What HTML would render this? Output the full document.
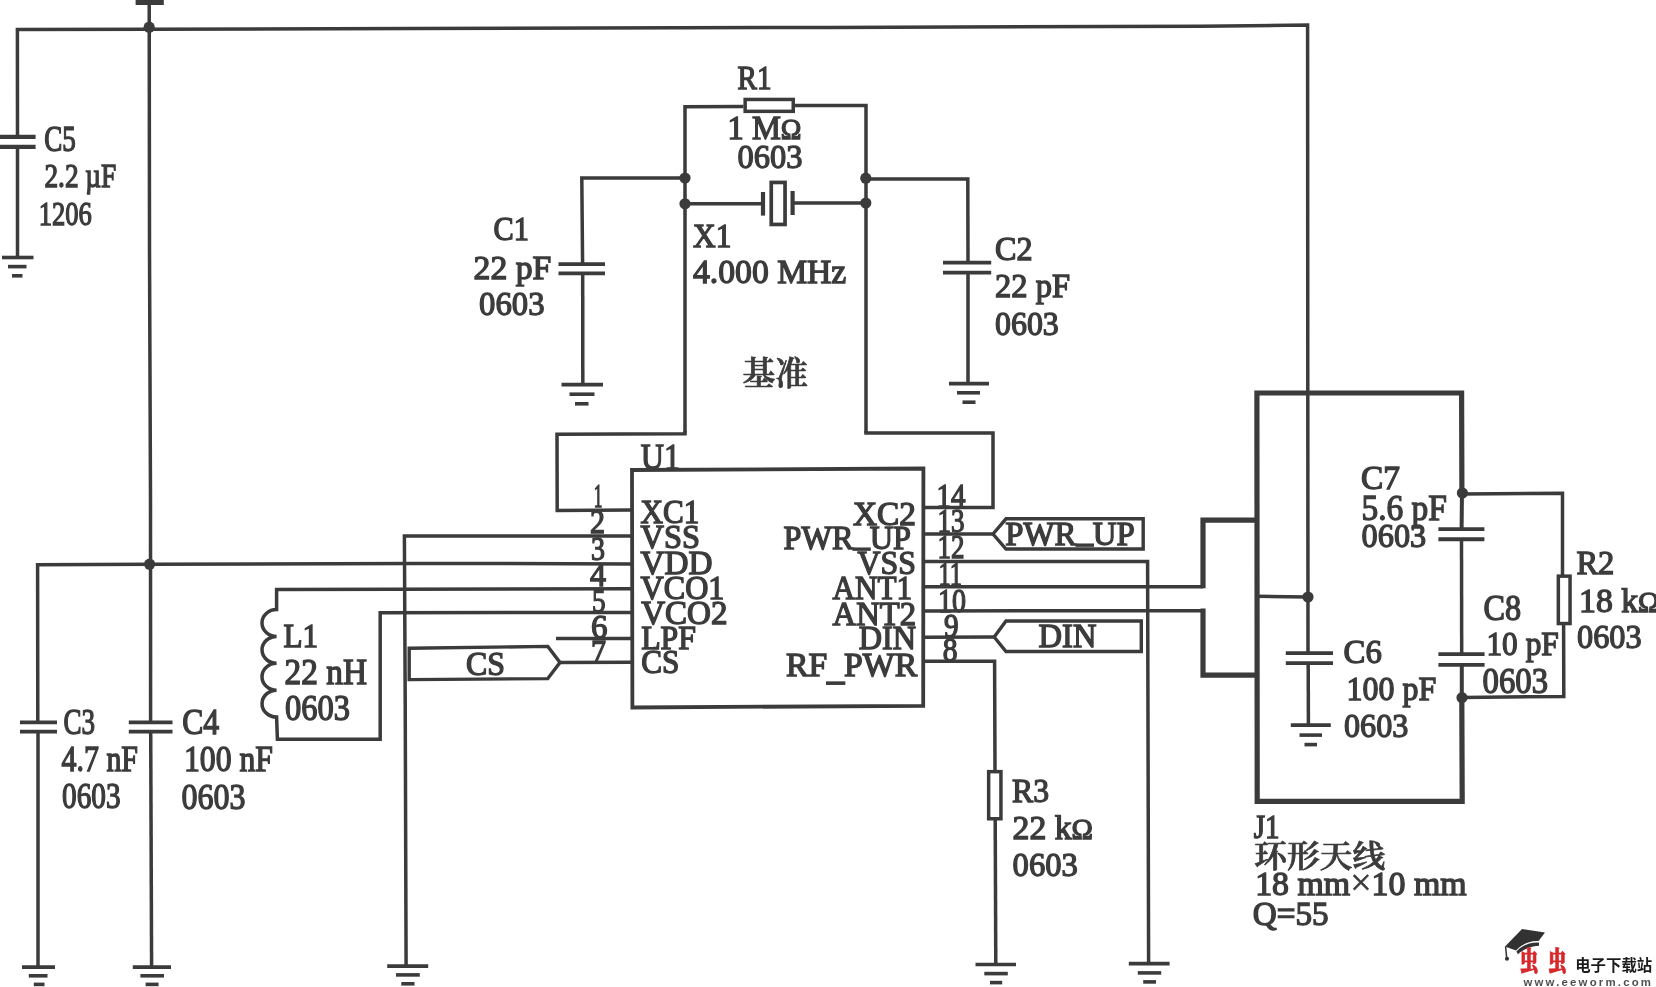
<!DOCTYPE html>
<html lang="zh">
<head>
<meta charset="utf-8">
<title>schematic</title>
<style>
html,body{margin:0;padding:0;background:#fff;}
body{width:1656px;height:987px;overflow:hidden;}
svg{display:block;}
text{white-space:pre;}
</style>
</head>
<body>
<svg width="1656" height="987" viewBox="0 0 1656 987">
<defs><filter id="soft" x="0" y="0" width="1656" height="987" filterUnits="userSpaceOnUse"><feGaussianBlur stdDeviation="0.45"/></filter></defs>
<rect x="0" y="0" width="1656" height="987" fill="#ffffff"/>
<g filter="url(#soft)">
<g fill="none" stroke="#3b3b3b">
<polyline points="135.60,2.40 163.80,2.40" stroke-width="5.2" stroke-linecap="butt" stroke-linejoin="miter"/>
<polyline points="149.20,2.00 149.50,250.00 150.50,500.00 150.60,722.20" stroke-width="3.5" stroke-linecap="butt" stroke-linejoin="miter"/>
<polyline points="150.70,731.50 151.60,967.00" stroke-width="3.5" stroke-linecap="butt" stroke-linejoin="miter"/>
<polyline points="17.50,137.00 17.40,29.50 149.00,29.30 414.00,28.40 828.00,27.40 1200.00,26.20 1307.60,25.10 1307.80,392.00 1308.00,652.70" stroke-width="3.5" stroke-linecap="butt" stroke-linejoin="miter"/>
<polyline points="0.00,136.90 35.60,136.90" stroke-width="4.4" stroke-linecap="butt" stroke-linejoin="miter"/>
<polyline points="0.00,146.90 35.60,146.90" stroke-width="4.4" stroke-linecap="butt" stroke-linejoin="miter"/>
<polyline points="17.50,147.00 17.50,257.50" stroke-width="3.5" stroke-linecap="butt" stroke-linejoin="miter"/>
<polyline points="2.00,257.50 33.50,257.50" stroke-width="3.6" stroke-linecap="butt" stroke-linejoin="miter"/>
<polyline points="8.00,266.60 26.50,266.60" stroke-width="3.6" stroke-linecap="butt" stroke-linejoin="miter"/>
<polyline points="12.00,275.80 22.50,275.80" stroke-width="3.6" stroke-linecap="butt" stroke-linejoin="miter"/>
<polyline points="743.50,106.60 685.00,106.80 685.00,432.80" stroke-width="3.5" stroke-linecap="butt" stroke-linejoin="miter"/>
<rect x="745.15" y="99.45" width="48.10" height="11.90" stroke-width="3.5"/>
<polyline points="794.50,105.60 866.00,105.50 866.00,433.00" stroke-width="3.5" stroke-linecap="butt" stroke-linejoin="miter"/>
<polyline points="685.00,178.00 581.80,178.00 582.60,264.00" stroke-width="3.5" stroke-linecap="butt" stroke-linejoin="miter"/>
<polyline points="582.70,273.20 582.80,384.50" stroke-width="3.5" stroke-linecap="butt" stroke-linejoin="miter"/>
<polyline points="558.50,264.00 605.00,264.00" stroke-width="3.75" stroke-linecap="butt" stroke-linejoin="miter"/>
<polyline points="558.50,273.30 605.00,273.30" stroke-width="3.75" stroke-linecap="butt" stroke-linejoin="miter"/>
<polyline points="561.50,384.60 603.00,384.60" stroke-width="3.6" stroke-linecap="butt" stroke-linejoin="miter"/>
<polyline points="569.50,394.20 594.50,394.20" stroke-width="3.6" stroke-linecap="butt" stroke-linejoin="miter"/>
<polyline points="575.00,403.80 588.50,403.80" stroke-width="3.6" stroke-linecap="butt" stroke-linejoin="miter"/>
<polyline points="866.00,179.00 967.80,179.00 968.00,262.50" stroke-width="3.5" stroke-linecap="butt" stroke-linejoin="miter"/>
<polyline points="968.00,272.50 968.00,383.50" stroke-width="3.5" stroke-linecap="butt" stroke-linejoin="miter"/>
<polyline points="943.00,262.60 991.20,262.60" stroke-width="3.75" stroke-linecap="butt" stroke-linejoin="miter"/>
<polyline points="943.00,272.50 991.20,272.50" stroke-width="3.75" stroke-linecap="butt" stroke-linejoin="miter"/>
<polyline points="949.00,383.60 989.00,383.60" stroke-width="3.6" stroke-linecap="butt" stroke-linejoin="miter"/>
<polyline points="957.00,392.80 980.00,392.80" stroke-width="3.6" stroke-linecap="butt" stroke-linejoin="miter"/>
<polyline points="962.50,402.20 975.50,402.20" stroke-width="3.6" stroke-linecap="butt" stroke-linejoin="miter"/>
<polyline points="685.00,203.80 763.00,203.80" stroke-width="3.5" stroke-linecap="butt" stroke-linejoin="miter"/>
<polyline points="763.00,192.00 763.00,215.60" stroke-width="4.2" stroke-linecap="butt" stroke-linejoin="miter"/>
<rect x="771.25" y="182.45" width="13.80" height="42.00" stroke-width="3.7"/>
<polyline points="792.60,191.00 792.60,215.00" stroke-width="4.2" stroke-linecap="butt" stroke-linejoin="miter"/>
<polyline points="792.60,203.00 865.60,203.00" stroke-width="3.5" stroke-linecap="butt" stroke-linejoin="miter"/>
<polyline points="685.00,431.00 685.00,433.70 557.00,434.30 557.20,510.40 632.00,510.10" stroke-width="3.5" stroke-linecap="butt" stroke-linejoin="miter"/>
<polyline points="866.00,431.00 866.00,433.00 993.00,433.00 993.00,507.60 923.00,507.50" stroke-width="3.5" stroke-linecap="butt" stroke-linejoin="miter"/>
<polyline points="632.00,471.00 632.00,470.00 923.40,468.50 923.20,705.80 632.40,707.50 632.00,470.00" stroke-width="3.8" stroke-linecap="butt" stroke-linejoin="miter"/>
<!-- close -->
<polyline points="632.00,535.90 404.40,536.10 405.20,700.00 406.10,966.00" stroke-width="3.5" stroke-linecap="butt" stroke-linejoin="miter"/>
<polyline points="387.20,966.10 428.20,966.10" stroke-width="3.6" stroke-linecap="butt" stroke-linejoin="miter"/>
<polyline points="396.00,974.90 419.80,974.90" stroke-width="3.6" stroke-linecap="butt" stroke-linejoin="miter"/>
<polyline points="401.30,983.80 414.50,983.80" stroke-width="3.6" stroke-linecap="butt" stroke-linejoin="miter"/>
<polyline points="632.00,563.90 414.00,563.40 149.50,564.30 37.60,564.80 37.80,722.20" stroke-width="3.5" stroke-linecap="butt" stroke-linejoin="miter"/>
<polyline points="38.00,731.50 38.00,967.00" stroke-width="3.5" stroke-linecap="butt" stroke-linejoin="miter"/>
<polyline points="20.00,722.30 57.00,722.30" stroke-width="3.75" stroke-linecap="butt" stroke-linejoin="miter"/>
<polyline points="20.00,731.60 57.00,731.60" stroke-width="3.75" stroke-linecap="butt" stroke-linejoin="miter"/>
<polyline points="22.00,967.10 55.00,967.10" stroke-width="3.6" stroke-linecap="butt" stroke-linejoin="miter"/>
<polyline points="28.80,975.80 47.50,975.80" stroke-width="3.6" stroke-linecap="butt" stroke-linejoin="miter"/>
<polyline points="33.80,984.40 44.50,984.40" stroke-width="3.6" stroke-linecap="butt" stroke-linejoin="miter"/>
<polyline points="128.80,722.30 172.50,722.30" stroke-width="3.75" stroke-linecap="butt" stroke-linejoin="miter"/>
<polyline points="128.80,731.60 172.50,731.60" stroke-width="3.75" stroke-linecap="butt" stroke-linejoin="miter"/>
<polyline points="132.80,967.10 171.00,967.10" stroke-width="3.6" stroke-linecap="butt" stroke-linejoin="miter"/>
<polyline points="140.40,975.80 164.00,975.80" stroke-width="3.6" stroke-linecap="butt" stroke-linejoin="miter"/>
<polyline points="145.60,984.40 158.60,984.40" stroke-width="3.6" stroke-linecap="butt" stroke-linejoin="miter"/>
<path d="M632,588.8 L276.6,589.6 L276.6,609.5 A14.6,13.45 0 0 0 276.6,636.40 A14.6,13.45 0 0 0 276.6,663.30 A14.6,13.45 0 0 0 276.6,690.20 A14.6,13.45 0 0 0 276.6,717.10 L277.4,739.2 L380.2,739.2 L380.2,612.7 L632,612.5" stroke-width="3.5" stroke-linejoin="miter"/>
<polyline points="556.00,638.60 632.00,638.50" stroke-width="3.5" stroke-linecap="butt" stroke-linejoin="miter"/>
<polyline points="560.00,662.60 632.00,662.30" stroke-width="3.5" stroke-linecap="butt" stroke-linejoin="miter"/>
<polygon points="409.2,648.2 547.8,646.4 560,662.6 547.8,678.6 409.2,679.6" stroke-width="3.4"/>
<polyline points="923.00,534.10 993.00,534.00" stroke-width="3.5" stroke-linecap="butt" stroke-linejoin="miter"/>
<polygon points="993,534 1006,518.8 1143.2,518.8 1143.2,549 1006,549" stroke-width="3.4"/>
<polyline points="923.00,561.50 1147.60,561.50 1148.60,963.60" stroke-width="3.5" stroke-linecap="butt" stroke-linejoin="miter"/>
<polyline points="1128.80,963.60 1169.60,963.60" stroke-width="3.6" stroke-linecap="butt" stroke-linejoin="miter"/>
<polyline points="1137.80,972.90 1161.20,972.90" stroke-width="3.6" stroke-linecap="butt" stroke-linejoin="miter"/>
<polyline points="1143.20,981.90 1156.00,981.90" stroke-width="3.6" stroke-linecap="butt" stroke-linejoin="miter"/>
<polyline points="923.00,586.80 1203.00,586.80" stroke-width="3.5" stroke-linecap="butt" stroke-linejoin="miter"/>
<polyline points="923.00,610.90 1203.00,610.80" stroke-width="3.5" stroke-linecap="butt" stroke-linejoin="miter"/>
<polyline points="923.00,637.30 994.20,637.00" stroke-width="3.5" stroke-linecap="butt" stroke-linejoin="miter"/>
<polygon points="994.2,637 1006,621 1141.3,621 1141.3,651.5 1006,651.5" stroke-width="3.4"/>
<polyline points="923.00,661.30 994.60,661.30 995.00,771.00" stroke-width="3.5" stroke-linecap="butt" stroke-linejoin="miter"/>
<rect x="988.65" y="771.65" width="12.30" height="47.10" stroke-width="3.5"/>
<polyline points="995.20,819.00 995.80,964.50" stroke-width="3.5" stroke-linecap="butt" stroke-linejoin="miter"/>
<polyline points="975.50,964.50 1016.00,964.50" stroke-width="3.6" stroke-linecap="butt" stroke-linejoin="miter"/>
<polyline points="984.30,973.60 1007.80,973.60" stroke-width="3.6" stroke-linecap="butt" stroke-linejoin="miter"/>
<polyline points="990.00,982.60 1002.20,982.60" stroke-width="3.6" stroke-linecap="butt" stroke-linejoin="miter"/>
<polyline points="1203.00,588.30 1203.00,520.20 1257.00,520.20" stroke-width="5.2" stroke-linecap="butt" stroke-linejoin="miter"/>
<polyline points="1203.00,608.50 1203.00,675.20 1257.00,675.20" stroke-width="5.2" stroke-linecap="butt" stroke-linejoin="miter"/>
<polyline points="1461.80,697.00 1462.20,801.30 1257.20,801.30 1256.90,393.00 1461.60,393.00 1461.90,492.00" stroke-width="5.2" stroke-linecap="butt" stroke-linejoin="miter"/>
<polyline points="1462.00,490.00 1461.60,528.50" stroke-width="4.0" stroke-linecap="butt" stroke-linejoin="miter"/>
<polyline points="1461.50,539.50 1461.70,653.50" stroke-width="3.5" stroke-linecap="butt" stroke-linejoin="miter"/>
<polyline points="1461.80,664.80 1461.80,699.00" stroke-width="4.0" stroke-linecap="butt" stroke-linejoin="miter"/>
<polyline points="1438.40,529.10 1484.40,529.10" stroke-width="3.9" stroke-linecap="butt" stroke-linejoin="miter"/>
<polyline points="1438.40,539.20 1484.40,539.20" stroke-width="3.9" stroke-linecap="butt" stroke-linejoin="miter"/>
<polyline points="1438.40,654.20 1484.60,654.20" stroke-width="3.75" stroke-linecap="butt" stroke-linejoin="miter"/>
<polyline points="1438.40,664.90 1484.60,664.90" stroke-width="3.75" stroke-linecap="butt" stroke-linejoin="miter"/>
<polyline points="1256.50,596.20 1308.00,597.00" stroke-width="3.5" stroke-linecap="butt" stroke-linejoin="miter"/>
<polyline points="1285.80,653.20 1333.00,653.20" stroke-width="3.75" stroke-linecap="butt" stroke-linejoin="miter"/>
<polyline points="1285.80,663.20 1333.00,663.20" stroke-width="3.75" stroke-linecap="butt" stroke-linejoin="miter"/>
<polyline points="1308.20,663.60 1308.40,725.00" stroke-width="3.5" stroke-linecap="butt" stroke-linejoin="miter"/>
<polyline points="1290.80,725.10 1330.80,725.10" stroke-width="3.6" stroke-linecap="butt" stroke-linejoin="miter"/>
<polyline points="1299.50,735.10 1322.00,735.10" stroke-width="3.6" stroke-linecap="butt" stroke-linejoin="miter"/>
<polyline points="1304.50,744.60 1317.00,744.60" stroke-width="3.6" stroke-linecap="butt" stroke-linejoin="miter"/>
<polyline points="1461.40,494.00 1562.50,493.20 1562.50,575.00" stroke-width="3.5" stroke-linecap="butt" stroke-linejoin="miter"/>
<rect x="1558.35" y="576.15" width="11.70" height="47.40" stroke-width="3.5"/>
<polyline points="1563.60,624.00 1563.80,696.40 1462.00,697.50" stroke-width="3.5" stroke-linecap="butt" stroke-linejoin="miter"/>
</g>
<circle cx="149.20" cy="27.20" r="5.6" fill="#3b3b3b" stroke="none"/>
<circle cx="685.00" cy="178.00" r="5.6" fill="#3b3b3b" stroke="none"/>
<circle cx="685.00" cy="203.80" r="5.6" fill="#3b3b3b" stroke="none"/>
<circle cx="865.80" cy="178.20" r="5.6" fill="#3b3b3b" stroke="none"/>
<circle cx="865.80" cy="203.00" r="5.6" fill="#3b3b3b" stroke="none"/>
<circle cx="149.60" cy="564.20" r="5.6" fill="#3b3b3b" stroke="none"/>
<circle cx="1308.00" cy="597.00" r="5.6" fill="#3b3b3b" stroke="none"/>
<circle cx="1462.40" cy="493.00" r="5.6" fill="#3b3b3b" stroke="none"/>
<circle cx="1462.00" cy="697.60" r="5.6" fill="#3b3b3b" stroke="none"/>
<g fill="#3b3b3b" stroke="#3b3b3b" stroke-width="1.35" font-family="'Liberation Serif', serif" font-size="34">
<text x="44.2" y="151.0" textLength="31.6" lengthAdjust="spacingAndGlyphs" font-size="35">C5</text>
<text x="44.4" y="186.6" textLength="71.9" lengthAdjust="spacingAndGlyphs">2.2 µF</text>
<text x="38.8" y="224.6" textLength="53.1" lengthAdjust="spacingAndGlyphs">1206</text>
<text x="737.5" y="88.6" textLength="34.0" lengthAdjust="spacingAndGlyphs">R1</text>
<text x="727.5" y="138.6" textLength="74.0" lengthAdjust="spacingAndGlyphs">1 M<tspan font-size="29">Ω</tspan></text>
<text x="737.5" y="167.6" textLength="65.0" lengthAdjust="spacingAndGlyphs">0603</text>
<text x="493.6" y="240.2" textLength="35.4" lengthAdjust="spacingAndGlyphs">C1</text>
<text x="473.6" y="278.8" textLength="77.8" lengthAdjust="spacingAndGlyphs">22 pF</text>
<text x="479.0" y="315.2" textLength="65.5" lengthAdjust="spacingAndGlyphs">0603</text>
<text x="693.0" y="246.6" textLength="38.3" lengthAdjust="spacingAndGlyphs">X1</text>
<text x="693.0" y="283.0" textLength="153.3" lengthAdjust="spacingAndGlyphs">4.000 MHz</text>
<text x="995.0" y="259.8" textLength="37.5" lengthAdjust="spacingAndGlyphs">C2</text>
<text x="995.0" y="297.0" textLength="75.0" lengthAdjust="spacingAndGlyphs">22 pF</text>
<text x="995.0" y="334.6" textLength="63.8" lengthAdjust="spacingAndGlyphs">0603</text>
<text x="640.8" y="469.2" textLength="39.2" lengthAdjust="spacingAndGlyphs" font-size="36">U1</text>
<text x="640.6" y="522.8" textLength="58.8" lengthAdjust="spacingAndGlyphs" font-size="33">XC1</text>
<text x="640.6" y="548.4" textLength="59.4" lengthAdjust="spacingAndGlyphs" font-size="33">VSS</text>
<text x="640.6" y="573.6" textLength="71.9" lengthAdjust="spacingAndGlyphs" font-size="33">VDD</text>
<text x="640.6" y="598.6" textLength="83.8" lengthAdjust="spacingAndGlyphs" font-size="33">VCO1</text>
<text x="641.2" y="624.0" textLength="86.3" lengthAdjust="spacingAndGlyphs" font-size="33">VCO2</text>
<text x="641.2" y="648.6" textLength="54.8" lengthAdjust="spacingAndGlyphs" font-size="33">LPF</text>
<text x="641.2" y="673.2" textLength="38.2" lengthAdjust="spacingAndGlyphs" font-size="33">CS</text>
<text x="853.0" y="524.6" textLength="63.0" lengthAdjust="spacingAndGlyphs" font-size="33">XC2</text>
<text x="783.6" y="548.6" textLength="127.4" lengthAdjust="spacingAndGlyphs" font-size="33">PWR<tspan dy="-3.0" stroke-width="1.7">_</tspan><tspan dy="3.0">UP</tspan></text>
<text x="857.6" y="574.4" textLength="58.4" lengthAdjust="spacingAndGlyphs" font-size="33">VSS</text>
<text x="832.6" y="598.6" textLength="79.6" lengthAdjust="spacingAndGlyphs" font-size="33">ANT1</text>
<text x="832.6" y="624.6" textLength="83.4" lengthAdjust="spacingAndGlyphs" font-size="33">ANT2</text>
<text x="858.8" y="649.2" textLength="57.2" lengthAdjust="spacingAndGlyphs" font-size="33">DIN</text>
<text x="786.0" y="675.8" textLength="131.2" lengthAdjust="spacingAndGlyphs" font-size="33">RF<tspan dy="4.2" stroke-width="1.9">_</tspan><tspan dy="-4.2">PWR</tspan></text>
<text x="593.8" y="507.2" textLength="8.7" lengthAdjust="spacingAndGlyphs" font-size="33">1</text>
<text x="590.0" y="533.2" textLength="15.0" lengthAdjust="spacingAndGlyphs" font-size="33">2</text>
<text x="591.0" y="559.8" textLength="14.0" lengthAdjust="spacingAndGlyphs" font-size="33">3</text>
<text x="590.0" y="586.0" textLength="16.0" lengthAdjust="spacingAndGlyphs" font-size="33">4</text>
<text x="592.0" y="612.0" textLength="13.6" lengthAdjust="spacingAndGlyphs" font-size="33">5</text>
<text x="591.0" y="637.6" textLength="16.5" lengthAdjust="spacingAndGlyphs" font-size="33">6</text>
<text x="591.0" y="662.8" textLength="15.0" lengthAdjust="spacingAndGlyphs" font-size="33">7</text>
<text x="936.5" y="506.6" textLength="29.0" lengthAdjust="spacingAndGlyphs" font-size="33">14</text>
<text x="937.6" y="532.2" textLength="27.0" lengthAdjust="spacingAndGlyphs" font-size="33">13</text>
<text x="937.6" y="558.4" textLength="27.0" lengthAdjust="spacingAndGlyphs" font-size="33">12</text>
<text x="938.5" y="584.6" textLength="23.5" lengthAdjust="spacingAndGlyphs" font-size="33">11</text>
<text x="938.0" y="611.6" textLength="28.0" lengthAdjust="spacingAndGlyphs" font-size="33">10</text>
<text x="944.0" y="636.6" textLength="14.6" lengthAdjust="spacingAndGlyphs" font-size="33">9</text>
<text x="942.8" y="661.4" textLength="14.8" lengthAdjust="spacingAndGlyphs" font-size="33">8</text>
<text x="466.0" y="675.2" textLength="39.0" lengthAdjust="spacingAndGlyphs" font-size="33">CS</text>
<text x="1005.2" y="545.2" textLength="129.6" lengthAdjust="spacingAndGlyphs" font-size="33">PWR<tspan dy="-3.0" stroke-width="1.7">_</tspan><tspan dy="3.0">UP</tspan></text>
<text x="1038.6" y="647.3" textLength="57.8" lengthAdjust="spacingAndGlyphs" font-size="33">DIN</text>
<text x="283.4" y="647.2" textLength="34.6" lengthAdjust="spacingAndGlyphs">L1</text>
<text x="284.6" y="684.4" textLength="82.4" lengthAdjust="spacingAndGlyphs" font-size="35">22 nH</text>
<text x="285.0" y="720.4" textLength="65.0" lengthAdjust="spacingAndGlyphs" font-size="35">0603</text>
<text x="63.4" y="734.2" textLength="31.6" lengthAdjust="spacingAndGlyphs" font-size="36">C3</text>
<text x="182.2" y="734.2" textLength="37.0" lengthAdjust="spacingAndGlyphs" font-size="36">C4</text>
<text x="61.6" y="771.2" textLength="76.4" lengthAdjust="spacingAndGlyphs" font-size="35.5">4.7 nF</text>
<text x="62.0" y="808.4" textLength="58.5" lengthAdjust="spacingAndGlyphs" font-size="35.5">0603</text>
<text x="184.0" y="770.8" textLength="89.0" lengthAdjust="spacingAndGlyphs" font-size="35.5">100 nF</text>
<text x="181.6" y="808.8" textLength="63.9" lengthAdjust="spacingAndGlyphs" font-size="35.5">0603</text>
<text x="1012.0" y="802.0" textLength="37.0" lengthAdjust="spacingAndGlyphs">R3</text>
<text x="1012.6" y="838.8" textLength="80.4" lengthAdjust="spacingAndGlyphs">22 k<tspan font-size="29">Ω</tspan></text>
<text x="1012.6" y="875.8" textLength="65.2" lengthAdjust="spacingAndGlyphs">0603</text>
<text x="1361.0" y="488.8" textLength="39.0" lengthAdjust="spacingAndGlyphs">C7</text>
<text x="1361.4" y="519.6" textLength="85.6" lengthAdjust="spacingAndGlyphs" font-size="36">5.6 pF</text>
<text x="1361.6" y="547.2" textLength="64.6" lengthAdjust="spacingAndGlyphs">0603</text>
<text x="1483.6" y="619.5" textLength="37.6" lengthAdjust="spacingAndGlyphs" font-size="35">C8</text>
<text x="1486.4" y="655.0" textLength="72.4" lengthAdjust="spacingAndGlyphs">10 pF</text>
<text x="1482.6" y="692.8" textLength="65.4" lengthAdjust="spacingAndGlyphs" font-size="35">0603</text>
<text x="1576.4" y="574.2" textLength="38.0" lengthAdjust="spacingAndGlyphs">R2</text>
<text x="1579.0" y="611.8" textLength="80.5" lengthAdjust="spacingAndGlyphs">18 k<tspan font-size="29">Ω</tspan></text>
<text x="1577.0" y="647.8" textLength="64.6" lengthAdjust="spacingAndGlyphs">0603</text>
<text x="1343.6" y="663.0" textLength="38.2" lengthAdjust="spacingAndGlyphs">C6</text>
<text x="1346.6" y="699.8" textLength="89.6" lengthAdjust="spacingAndGlyphs">100 pF</text>
<text x="1344.0" y="736.8" textLength="64.4" lengthAdjust="spacingAndGlyphs">0603</text>
<text x="1253.8" y="838.2" textLength="25.8" lengthAdjust="spacingAndGlyphs">J1</text>
<text x="1255.2" y="895.0" textLength="211.4" lengthAdjust="spacingAndGlyphs">18 mm<tspan font-size="38" stroke-width="0.5">×</tspan>10 mm</text>
<text x="1252.8" y="925.0" textLength="75.8" lengthAdjust="spacingAndGlyphs">Q=55</text>
</g>
<g fill="#3b3b3b" stroke="#3b3b3b" stroke-width="0.7" font-weight="600" font-family="'Liberation Serif', 'Noto Serif CJK SC', serif">
<text x="742.6" y="385" font-size="32.5" textLength="65.4" lengthAdjust="spacingAndGlyphs">基准</text>
<text x="1254.2" y="866.8" font-size="30.6" textLength="131" lengthAdjust="spacingAndGlyphs">环形天线</text>
</g>
</g>
<g filter="url(#soft)">
<path d="M1505,946.6 L1522,929 L1545,932.6 L1538.6,941 C1530,940.4 1521.6,944.4 1516,950.4 Z" fill="#333333"/>
<path d="M1516.4,951.4 C1522,945.4 1530,942.2 1539,942.6 L1539,945.8 C1531,946 1523.4,949.4 1518,954.2 Z" fill="#333333"/>
<path d="M1505.6,946.4 L1506.6,957.4" stroke="#333333" stroke-width="1.5" fill="none"/>
<ellipse cx="1507" cy="958.8" rx="2.1" ry="2" fill="#333333"/>
<text x="1519.4" y="971" textLength="19" font-family="'Liberation Serif', 'Noto Serif CJK SC', serif" font-weight="900" font-size="27.5" fill="#d8282c" stroke="#d8282c" stroke-width="0.9" lengthAdjust="spacingAndGlyphs">虫</text>
<text x="1547.8" y="971" textLength="19" font-family="'Liberation Serif', 'Noto Serif CJK SC', serif" font-weight="900" font-size="27.5" fill="#d8282c" stroke="#d8282c" stroke-width="0.9" lengthAdjust="spacingAndGlyphs">虫</text>
<text x="1575.2" y="970.9" font-family="'Liberation Sans', 'Noto Sans CJK SC', sans-serif" font-weight="700" font-size="15.6" fill="#1c1c1c" textLength="77" lengthAdjust="spacingAndGlyphs">电子下载站</text>
<text x="1523.4" y="985.6" font-family="'Liberation Sans', sans-serif" font-weight="700" font-size="11.4" fill="#505050" textLength="127.6" lengthAdjust="spacing">www.eeworm.com</text>
</g>
</svg>
</body>
</html>
